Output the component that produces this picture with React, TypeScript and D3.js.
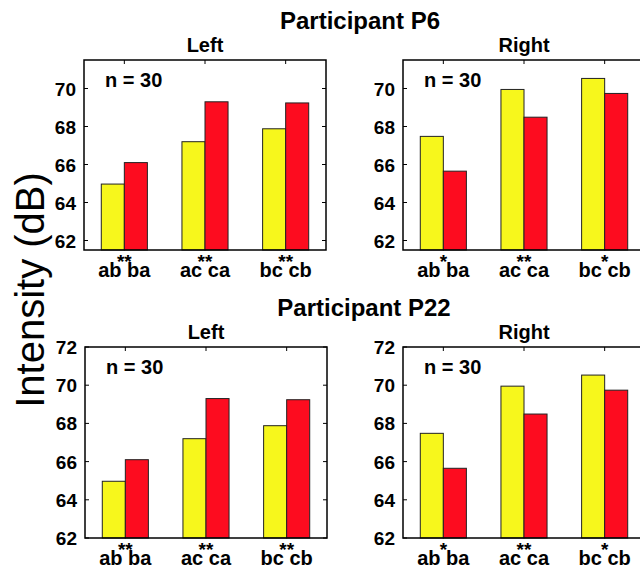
import React from "react";
import * as d3 from "d3";

// conditions on x axis
const groups = ["ab ba", "ac ca", "bc cb"];
// mean intensity (dB), first / second order of each pair
const leftFirst = [64.97, 67.2, 67.88];
const leftSecond = [66.1, 69.3, 69.24];
const rightFirst = [67.48, 69.95, 70.53];
const rightSecond = [65.65, 68.49, 69.74];
// significance marks
const leftStars = ["**", "**", "**"];
const rightStars = ["*", "**", "*"];
const topTicks = [62, 64, 66, 68, 70];
const bottomTicks = [62, 64, 66, 68, 70, 72];

const width = 640;
const height = 568;
const font = "Liberation Sans, Arial, Helvetica, sans-serif";
const yellow = "#f7f71c";
const red = "#fd0c1f";

function Panel({ x, y, w, h, domain, ticks, first, second, stars, title }) {
  const xScale = d3.scaleLinear().domain([0.5, 3.5]).range([0, w]);
  const yScale = d3.scaleLinear().domain(domain).range([h, 0]);
  const barW = xScale(0.5 + 0.2857) - xScale(0.5);
  const tickLen = 4;
  return (
    <g transform={`translate(${x},${y})`} fontWeight="bold">
      <text x={w / 2} y={-8} textAnchor="middle" fontSize={20}>
        {title}
      </text>
      <rect x={0} y={0} width={w} height={h} fill="white" />
      {groups.map((g, i) => {
        const c = xScale(i + 1);
        return (
          <g key={g}>
            <rect
              x={c - barW}
              y={yScale(first[i])}
              width={barW}
              height={h - yScale(first[i])}
              fill={yellow}
              stroke="#222"
              strokeWidth={1}
            />
            <rect
              x={c}
              y={yScale(second[i])}
              width={barW}
              height={h - yScale(second[i])}
              fill={red}
              stroke="#222"
              strokeWidth={1}
            />
            <line x1={c} x2={c} y1={0} y2={tickLen} stroke="black" />
            <text x={c} y={h + 18} textAnchor="middle" fontSize={19}>
              {stars[i]}
            </text>
            <text x={c} y={h + 27} textAnchor="middle" fontSize={20}>
              {g}
            </text>
          </g>
        );
      })}
      {ticks.map((t) => (
        <g key={t}>
          <line x1={0} x2={tickLen} y1={yScale(t)} y2={yScale(t)} stroke="black" />
          <line x1={w - tickLen} x2={w} y1={yScale(t)} y2={yScale(t)} stroke="black" />
          <text x={-8} y={yScale(t) + 7} textAnchor="end" fontSize={19}>
            {t}
          </text>
        </g>
      ))}
      <text x={21} y={27} fontSize={20}>
        n = 30
      </text>
      <rect x={0} y={0} width={w} height={h} fill="none" stroke="black" strokeWidth={1.5} />
    </g>
  );
}

export default function App() {
  return (
    <svg
      width={width}
      height={height}
      style={{ position: "absolute", left: 0, top: 0, background: "white" }}
      fontFamily={font}
      fill="black"
    >
      <text x={360} y={29} textAnchor="middle" fontSize={24} fontWeight="bold">
        Participant P6
      </text>
      <text x={364} y={316} textAnchor="middle" fontSize={24} fontWeight="bold">
        Participant P22
      </text>
      <text
        transform="translate(44,290) rotate(-90)"
        textAnchor="middle"
        fontSize={40}
      >
        Intensity (dB)
      </text>
      <Panel x={84} y={60} w={242} h={190} domain={[61.5, 71.5]} ticks={topTicks}
        first={leftFirst} second={leftSecond} stars={leftStars} title="Left" />
      <Panel x={403} y={60} w={242} h={190} domain={[61.5, 71.5]} ticks={topTicks}
        first={rightFirst} second={rightSecond} stars={rightStars} title="Right" />
      <Panel x={85} y={347} w={242} h={191} domain={[62, 72]} ticks={bottomTicks}
        first={leftFirst} second={leftSecond} stars={leftStars} title="Left" />
      <Panel x={403} y={347} w={242} h={191} domain={[62, 72]} ticks={bottomTicks}
        first={rightFirst} second={rightSecond} stars={rightStars} title="Right" />
    </svg>
  );
}
